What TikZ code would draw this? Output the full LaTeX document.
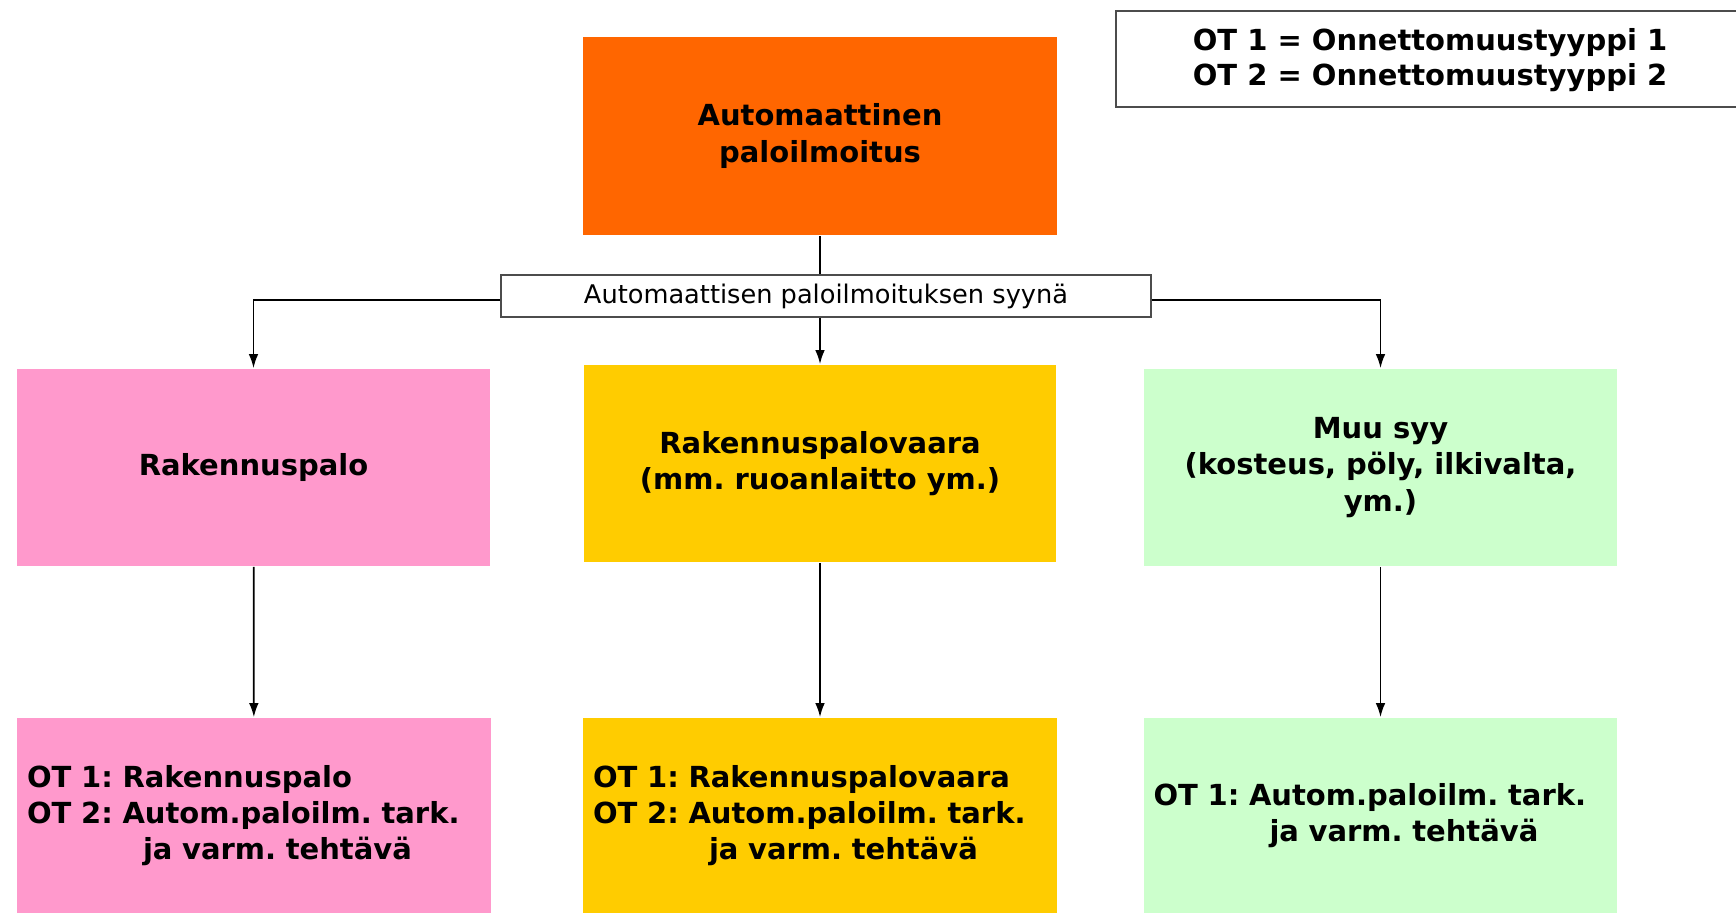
\documentclass[tikz,border=0pt]{standalone}
\usepackage{fontspec}
\setmainfont{DejaVu Sans}
\frenchspacing
\usetikzlibrary{arrows.meta}
\definecolor{alarmorange}{HTML}{FF6600}
\definecolor{firepink}{HTML}{FF99CC}
\definecolor{riskyellow}{HTML}{FFCC00}
\definecolor{othergreen}{HTML}{CCFFCC}
\def\boxfont{\fontsize{16.5}{20.7}\selectfont\bfseries}
\def\keyfont{\fontsize{16.5}{19.8}\selectfont\bfseries}
\def\capfont{\fontsize{14.6}{17}\selectfont}
\tikzstyle{alarm}=[fill=alarmorange,minimum width=9.48cm,minimum height=3.96cm,
                   align=center,font=\boxfont]
\tikzstyle{cause}=[minimum width=9.46cm,minimum height=3.94cm,align=center,
                   font=\boxfont]
\tikzstyle{result}=[minimum width=9.48cm,minimum height=3.9cm,inner xsep=0.2cm,
                    text width=9.08cm,align=left,font=\boxfont]
\tikzstyle{caption}=[draw=black!70,fill=white,minimum width=13cm,
                     minimum height=0.84cm,font=\capfont]
\tikzstyle{legend}=[draw=black!70,minimum width=12.56cm,minimum height=1.92cm,
                    align=center,font=\keyfont]
\tikzstyle{link}=[-{Latex[length=8pt,width=5.5pt]}]

\begin{document}
\begin{tikzpicture}[x=0.02cm,y=-0.02cm,line width=1pt]
  \useasboundingbox (0,0) rectangle (1736,913);
  % Place alarm and legend
  \node[alarm] (alarm) at (820,136) {Automaattinen\\paloilmoitus};
  \node[legend] (key) at (1430,59)
    {\strut OT 1 = Onnettomuustyyppi 1\\OT 2 = Onnettomuustyyppi 2};
  \node[caption] (why) at (826,296) {Automaattisen paloilmoituksen syynä};

  % Causes
  \node[cause,fill=firepink] (fire) at (253.5,467.5) {Rakennuspalo};
  \node[cause,fill=riskyellow] (risk) at (820,463.5)
    {Rakennuspalovaara\\(mm. ruoanlaitto ym.)};
  \node[cause,fill=othergreen] (other) at (1380.5,467.5)
    {Muu syy\\(kosteus, pöly, ilkivalta,\\ym.)};

  % Results
  \node[result,fill=firepink] (fireot) at (254,815.5)
    {OT 1: Rakennuspalo\\OT 2: Autom.paloilm. tark.\\\hspace*{4em}ja varm. tehtävä};
  \node[result,fill=riskyellow] (riskot) at (820,815.5)
    {OT 1: Rakennuspalovaara\\OT 2: Autom.paloilm. tark.\\\hspace*{4em}ja varm. tehtävä};
  \node[result,fill=othergreen] (otherot) at (1380.5,815.5)
    {OT 1: Autom.paloilm. tark.\\\hspace*{4em}ja varm. tehtävä};

  \draw (alarm) -- (alarm |- why.north);
  \draw[link] ([yshift=-0.08cm]why.west) -| (fire);
  \draw[link] (alarm |- why.south) -- (risk);
  \draw[link] ([yshift=-0.08cm]why.east) -| (other);

  \draw[link] (fire) -- (fireot);
  \draw[link] (risk) -- (riskot);
  \draw[link] (other) -- (otherot);
\end{tikzpicture}
\end{document}
